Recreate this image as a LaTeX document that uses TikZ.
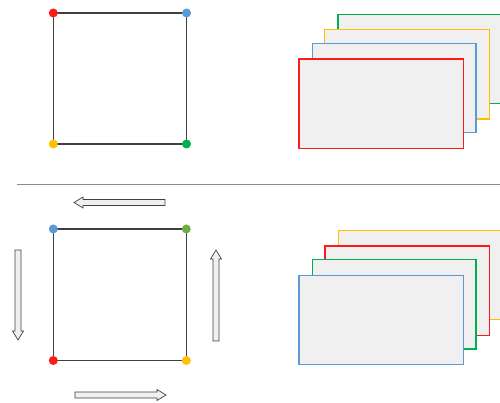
\documentclass[tikz,border=0pt]{standalone}
\begin{document}
\begin{tikzpicture}[x=1pt,y=-1pt,
  dot/.style={circle,fill=#1,inner sep=0pt,minimum size=9pt},
  edge/.style={draw=black!75,line width=1.3pt},
  card/.style={draw=#1,fill=cardfill,line width=1.2pt},
  blockarr/.style={draw=black!75,fill=cardfill,line width=0.7pt,line join=miter}]
\definecolor{cardfill}{HTML}{F0F0F0}
\definecolor{cred}{HTML}{FF1A1A}
\definecolor{cblue}{HTML}{5B9BD5}
\definecolor{cyellow}{HTML}{FFC000}
\definecolor{cgreen}{HTML}{00B050}
\definecolor{clgreen}{HTML}{70AD47}
\useasboundingbox (0,0) rectangle (500,403);
% top square
\coordinate (t1) at (53.3,13); \coordinate (t2) at (186.5,13);
\coordinate (t3) at (186.5,144); \coordinate (t4) at (53.3,144);
\draw[edge] (t1) -- (t2) -- (t3) -- (t4) -- cycle;
\node[dot=cred] (ta) at (t1) {};
\node[dot=cblue] (tb) at (t2) {};
\node[dot=cgreen] (tc) at (t3) {};
\node[dot=cyellow] (td) at (t4) {};
% top cards
\draw[card=cgreen] (501,103.7) -- (338,103.7) -- (338,14.3) -- (501,14.3);
\draw[card=cyellow] (324.7,29.7) rectangle (489.3,119);
\draw[card=cblue] (312.3,43.7) rectangle (476,132.7);
\draw[card=cred] (299,59) rectangle (463.3,148.3);
% divider
\draw[black!45,line width=0.8pt] (17,184) -- (500,184);
% bottom square
\coordinate (b1) at (53.3,229); \coordinate (b2) at (186.3,229);
\coordinate (b3) at (186.3,360.5); \coordinate (b4) at (53.3,360.5);
\draw[edge] (b1) -- (b2) -- (b3) -- (b4) -- cycle;
\node[dot=cblue] (ba) at (b1) {};
\node[dot=clgreen] (bb) at (b2) {};
\node[dot=cyellow] (bc) at (b3) {};
\node[dot=cred] (bd) at (b4) {};
% bottom cards
\draw[card=cyellow] (501,319.7) -- (338.3,319.7) -- (338.3,230.3) -- (501,230.3);
\draw[card=cred] (325,246) rectangle (489.3,335.3);
\draw[card=cgreen] (312.3,259.7) rectangle (476,349);
\draw[card=cblue] (299,275.3) rectangle (463.3,364.7);
% block arrows
\begin{scope}[shift={(74,202.5)},rotate=180]
\draw[blockarr] (-91,-3) -- (-9,-3) -- (-9,-5.5) -- (0,0) -- (-9,5.5) -- (-9,3) -- (-91,3) -- cycle;
\end{scope}
\begin{scope}[shift={(166,395)}]
\draw[blockarr] (-91,-3) -- (-9,-3) -- (-9,-5.5) -- (0,0) -- (-9,5.5) -- (-9,3) -- (-91,3) -- cycle;
\end{scope}
\begin{scope}[shift={(18,340)},rotate=-90]
\draw[blockarr] (-90,-3) -- (-9,-3) -- (-9,-5.5) -- (0,0) -- (-9,5.5) -- (-9,3) -- (-90,3) -- cycle;
\end{scope}
\begin{scope}[shift={(216,250)},rotate=90]
\draw[blockarr] (-91,-3) -- (-9,-3) -- (-9,-5.5) -- (0,0) -- (-9,5.5) -- (-9,3) -- (-91,3) -- cycle;
\end{scope}
\end{tikzpicture}
\end{document}
